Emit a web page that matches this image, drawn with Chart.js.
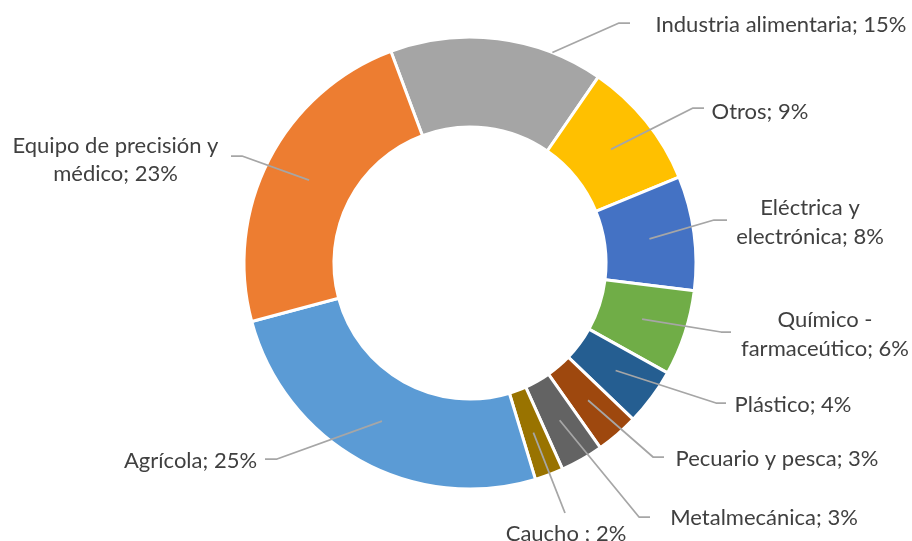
<!DOCTYPE html>
<html>
<head>
<meta charset="utf-8">
<script src="https://cdn.jsdelivr.net/npm/chart.js@4.4.0/dist/chart.umd.min.js"></script>
<style>
    html, body { margin: 0; padding: 0; background: #ffffff; }
    #chartBox { width: 912px; height: 541px; }
</style>
</head>
<body>
<div id="chartBox"><canvas id="sectorChart" width="912" height="541"></canvas></div>
<script>
// sectores (\n = salto de renglón en la etiqueta) y su participación en %
var sectores = ["Industria alimentaria", "Otros", "Eléctrica y\nelectrónica", "Químico -\nfarmaceútico", "Plástico",
    "Pecuario y pesca", "Metalmecánica", "Caucho ", "Agrícola", "Equipo de precisión y\nmédico"];
var participacion = [15, 9, 8, 6, 4, 3, 3, 2, 25, 23];
var colores = ["#A5A5A5", "#FFC000", "#4472C4", "#70AD47", "#255E91", "#9E480E", "#636363", "#997300", "#5B9BD5", "#ED7D31"];

// ubicación de cada etiqueta: centro del texto, línea base del primer renglón,
// codo y final de la línea guía
var ubicacion = [
    { x: 781, y: 31.5, codo: [619, 23], fin: [630, 23] },
    { x: 760, y: 118.5, codo: [693, 108], fin: [704, 108] },
    { x: 810, y: 215, codo: [714, 220], fin: [727, 220] },
    { x: 825, y: 327, codo: [721, 332], fin: [731, 332] },
    { x: 793, y: 412, codo: [716, 403], fin: [726, 403] },
    { x: 777, y: 465.5, codo: [653, 457], fin: [664, 457] },
    { x: 764, y: 524.5, codo: [639, 517], fin: [650, 517] },
    { x: 566, y: 540.5, codo: [565, 513], fin: null },
    { x: 190.5, y: 468, codo: [277, 459], fin: [265, 459] },
    { x: 115.5, y: 152.5, codo: [242, 156], fin: [231, 156] }
];
// punto de la guía dentro del sector: fracción del ángulo y del grosor del anillo
var anclaGuia = [[0.76, 1.0], null, null, null, null, null, null, null, null, null];

var interlineado = 28.5;

function textoEtiqueta(i) {
    return (sectores[i] + "; " + participacion[i] + "%").split("\n");
}

var etiquetasPlugin = {
    id: 'etiquetasGuia',
    afterDatasetsDraw: function (chart) {
        var ctx = chart.ctx;
        var arcos = chart.getDatasetMeta(0).data;
        ctx.save();
        arcos.forEach(function (arco, i) {
            var p = arco.getProps(['x', 'y', 'startAngle', 'endAngle', 'innerRadius', 'outerRadius'], true);
            var a = anclaGuia[i] || [0.5, 0.5];
            var ang = p.startAngle + a[0] * (p.endAngle - p.startAngle);
            var r = p.innerRadius + a[1] * (p.outerRadius - p.innerRadius);
            var u = ubicacion[i];

            ctx.beginPath();
            ctx.moveTo(p.x + r * Math.cos(ang), p.y + r * Math.sin(ang));
            ctx.lineTo(u.codo[0], u.codo[1]);
            if (u.fin) ctx.lineTo(u.fin[0], u.fin[1]);
            ctx.strokeStyle = '#A6A6A6';
            ctx.lineWidth = 1.75;
            ctx.lineJoin = 'round';
            ctx.stroke();

            ctx.fillStyle = '#404040';
            ctx.font = '22px Lato';
            ctx.textAlign = 'center';
            ctx.textBaseline = 'alphabetic';
            textoEtiqueta(i).forEach(function (linea, k) {
                ctx.fillText(linea, u.x, u.y + k * interlineado);
            });
        });
        ctx.restore();
    }
};

new Chart(document.getElementById('sectorChart'), {
    type: 'doughnut',
    data: {
        labels: sectores,
        datasets: [{
            data: participacion,
            backgroundColor: colores,
            borderColor: '#ffffff',
            borderWidth: 3,
            hoverOffset: 0
        }]
    },
    options: {
        responsive: false,
        animation: false,
        events: [],
        rotation: -20.5,
        radius: 226,
        cutout: '60.2%',
        layout: { padding: { left: 28, right: 0, top: 0, bottom: 15 } },
        plugins: {
            legend: { display: false },
            tooltip: { enabled: false }
        }
    },
    plugins: [etiquetasPlugin]
});
</script>
</body>
</html>
